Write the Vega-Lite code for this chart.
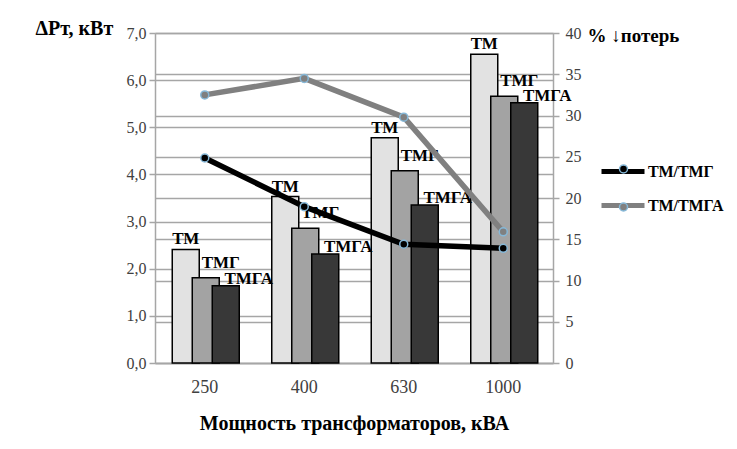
{
  "$schema": "https://vega.github.io/schema/vega-lite/v6.json",
  "autosize": {"type": "none"},
  "padding": {"left": 155, "top": 33, "right": 184, "bottom": 86},
  "width": 398,
  "height": 330,
  "background": "white",
  "config": {
    "view": {"stroke": null},
    "font": "Liberation Serif",
    "text": {"font": "Liberation Serif"},
    "axis": {"labelFont": "Liberation Serif", "titleFont": "Liberation Serif", "labelColor": "#404040", "domainColor": "#a6a6a6", "domainWidth": 1.5, "tickColor": "#a6a6a6", "tickWidth": 1.5, "gridColor": "#a6a6a6", "gridWidth": 1.5},
    "legend": {"labelFont": "Liberation Serif"}
  },
  "datasets": {
    "bars": [
      {"cap": "250", "type": "ТМ", "p": 2.41},
      {"cap": "250", "type": "ТМГ", "p": 1.81},
      {"cap": "250", "type": "ТМГА", "p": 1.64},
      {"cap": "400", "type": "ТМ", "p": 3.53},
      {"cap": "400", "type": "ТМГ", "p": 2.86},
      {"cap": "400", "type": "ТМГА", "p": 2.31},
      {"cap": "630", "type": "ТМ", "p": 4.78},
      {"cap": "630", "type": "ТМГ", "p": 4.08},
      {"cap": "630", "type": "ТМГА", "p": 3.35},
      {"cap": "1000", "type": "ТМ", "p": 6.55},
      {"cap": "1000", "type": "ТМГ", "p": 5.66},
      {"cap": "1000", "type": "ТМГА", "p": 5.52}
    ],
    "lines": [
      {"cap": "250", "series": "ТМ/ТМГ", "pct": 24.85},
      {"cap": "400", "series": "ТМ/ТМГ", "pct": 18.95},
      {"cap": "630", "series": "ТМ/ТМГ", "pct": 14.4},
      {"cap": "1000", "series": "ТМ/ТМГ", "pct": 13.9},
      {"cap": "250", "series": "ТМ/ТМГА", "pct": 32.5},
      {"cap": "400", "series": "ТМ/ТМГА", "pct": 34.5},
      {"cap": "630", "series": "ТМ/ТМГА", "pct": 29.8},
      {"cap": "1000", "series": "ТМ/ТМГА", "pct": 15.9}
    ]
  },
  "layer": [
    {
      "data": {"name": "bars"},
      "encoding": {
        "x": {"field": "cap", "type": "nominal", "sort": ["250", "400", "630", "1000"],
          "scale": {"paddingInner": 0, "paddingOuter": 0},
          "axis": {"title": "Мощность трансформаторов, кВА", "titleFont": "Liberation Serif", "titleFontSize": 20, "titleFontWeight": "bold", "titleColor": "black", "titleY": 66, "titleBaseline": "alphabetic", "labelAngle": 0, "labelFontSize": 18, "labelPadding": 15, "ticks": false}},
        "y": {"field": "p", "type": "quantitative", "scale": {"domain": [0, 7], "nice": false},
          "axis": {"orient": "left", "values": [0, 1, 2, 3, 4, 5, 6, 7], "format": ".1f", "labelExpr": "replace(datum.label, '.', ',')", "labelFontSize": 16, "tickSize": 6, "labelPadding": 3, "grid": true,
            "title": "ΔPт, кВт", "titleFont": "Liberation Serif", "titleAngle": 0, "titleAlign": "left", "titleBaseline": "middle", "titleX": -120, "titleY": -5, "titleFontSize": 20, "titleFontWeight": "bold", "titleColor": "black"}}
      },
      "layer": [
        {
          "transform": [{"filter": "datum.type == 'ТМ'"}],
          "mark": {"type": "bar", "width": 27, "xOffset": -19, "fill": "#e2e2e2", "stroke": "black", "strokeWidth": 1.5}
        },
        {
          "transform": [{"filter": "datum.type == 'ТМГ'"}],
          "mark": {"type": "bar", "width": 27, "xOffset": 1, "fill": "#a3a3a3", "stroke": "black", "strokeWidth": 1.5}
        },
        {
          "transform": [{"filter": "datum.type == 'ТМГА'"}],
          "mark": {"type": "bar", "width": 27, "xOffset": 21, "fill": "#383838", "stroke": "black", "strokeWidth": 1.5}
        },
        {
          "transform": [{"filter": "datum.type == 'ТМ'"}],
          "mark": {"type": "text", "font": "Liberation Serif", "fontWeight": "bold", "fontSize": 17, "baseline": "alphabetic", "dy": -5, "dx": -19, "color": "black"},
          "encoding": {"text": {"field": "type"}}
        },
        {
          "transform": [{"filter": "datum.type == 'ТМГ'"}],
          "mark": {"type": "text", "font": "Liberation Serif", "fontWeight": "bold", "fontSize": 17, "baseline": "alphabetic", "dy": -10, "dx": 16, "color": "black"},
          "encoding": {"text": {"field": "type"}}
        },
        {
          "transform": [{"filter": "datum.type == 'ТМГА'"}],
          "mark": {"type": "text", "font": "Liberation Serif", "fontWeight": "bold", "fontSize": 17, "baseline": "alphabetic", "dy": -2, "dx": 44, "color": "black"},
          "encoding": {"text": {"field": "type"}}
        }
      ]
    },
    {
      "data": {"name": "lines"},
      "encoding": {
        "x": {"field": "cap", "type": "nominal", "sort": ["250", "400", "630", "1000"]},
        "y": {"field": "pct", "type": "quantitative", "scale": {"domain": [0, 40], "nice": false},
          "axis": {"orient": "right", "values": [0, 5, 10, 15, 20, 25, 30, 35, 40], "labelFontSize": 16, "tickSize": 6, "labelPadding": 6, "grid": true,
            "title": "% ↓потерь", "titleFont": "Liberation Serif", "titleAngle": 0, "titleAlign": "left", "titleBaseline": "middle", "titleX": 34, "titleY": 2, "titleFontSize": 19, "titleFontWeight": "bold", "titleColor": "black"}}
      },
      "layer": [
        {
          "mark": {"type": "line", "strokeWidth": 5.5},
          "encoding": {
            "color": {"field": "series", "type": "nominal", "scale": {"domain": ["ТМ/ТМГ", "ТМ/ТМГА"], "range": ["#000000", "#808080"]},
              "legend": {"orient": "none", "legendX": 444, "legendY": 114.5, "title": null, "symbolType": "stroke", "symbolSize": 1849, "symbolStrokeWidth": 5, "labelFontSize": 16, "labelFontWeight": "bold", "labelColor": "black", "labelOffset": 1, "rowPadding": -5, "padding": 0}}
          }
        },
        {
          "mark": {"type": "point", "filled": true, "size": 64, "stroke": "#86b8d8", "strokeWidth": 1.5, "opacity": 1},
          "encoding": {
            "fill": {"field": "series", "type": "nominal", "scale": {"domain": ["ТМ/ТМГ", "ТМ/ТМГА", "-"], "range": ["#000000", "#808080", "#ffffff"]},
              "legend": {"orient": "none", "values": ["ТМ/ТМГ", "ТМ/ТМГА"], "legendX": 460.5, "legendY": 128, "title": null, "symbolType": "circle", "symbolSize": 64, "symbolStrokeColor": "#86b8d8", "symbolStrokeWidth": 1.5, "symbolOpacity": 1, "labelExpr": "''", "labelFontSize": 16, "labelOffset": 0, "rowPadding": 22, "padding": 0}}
          }
        }
      ]
    }
  ],
  "resolve": {"scale": {"y": "independent"}}
}
